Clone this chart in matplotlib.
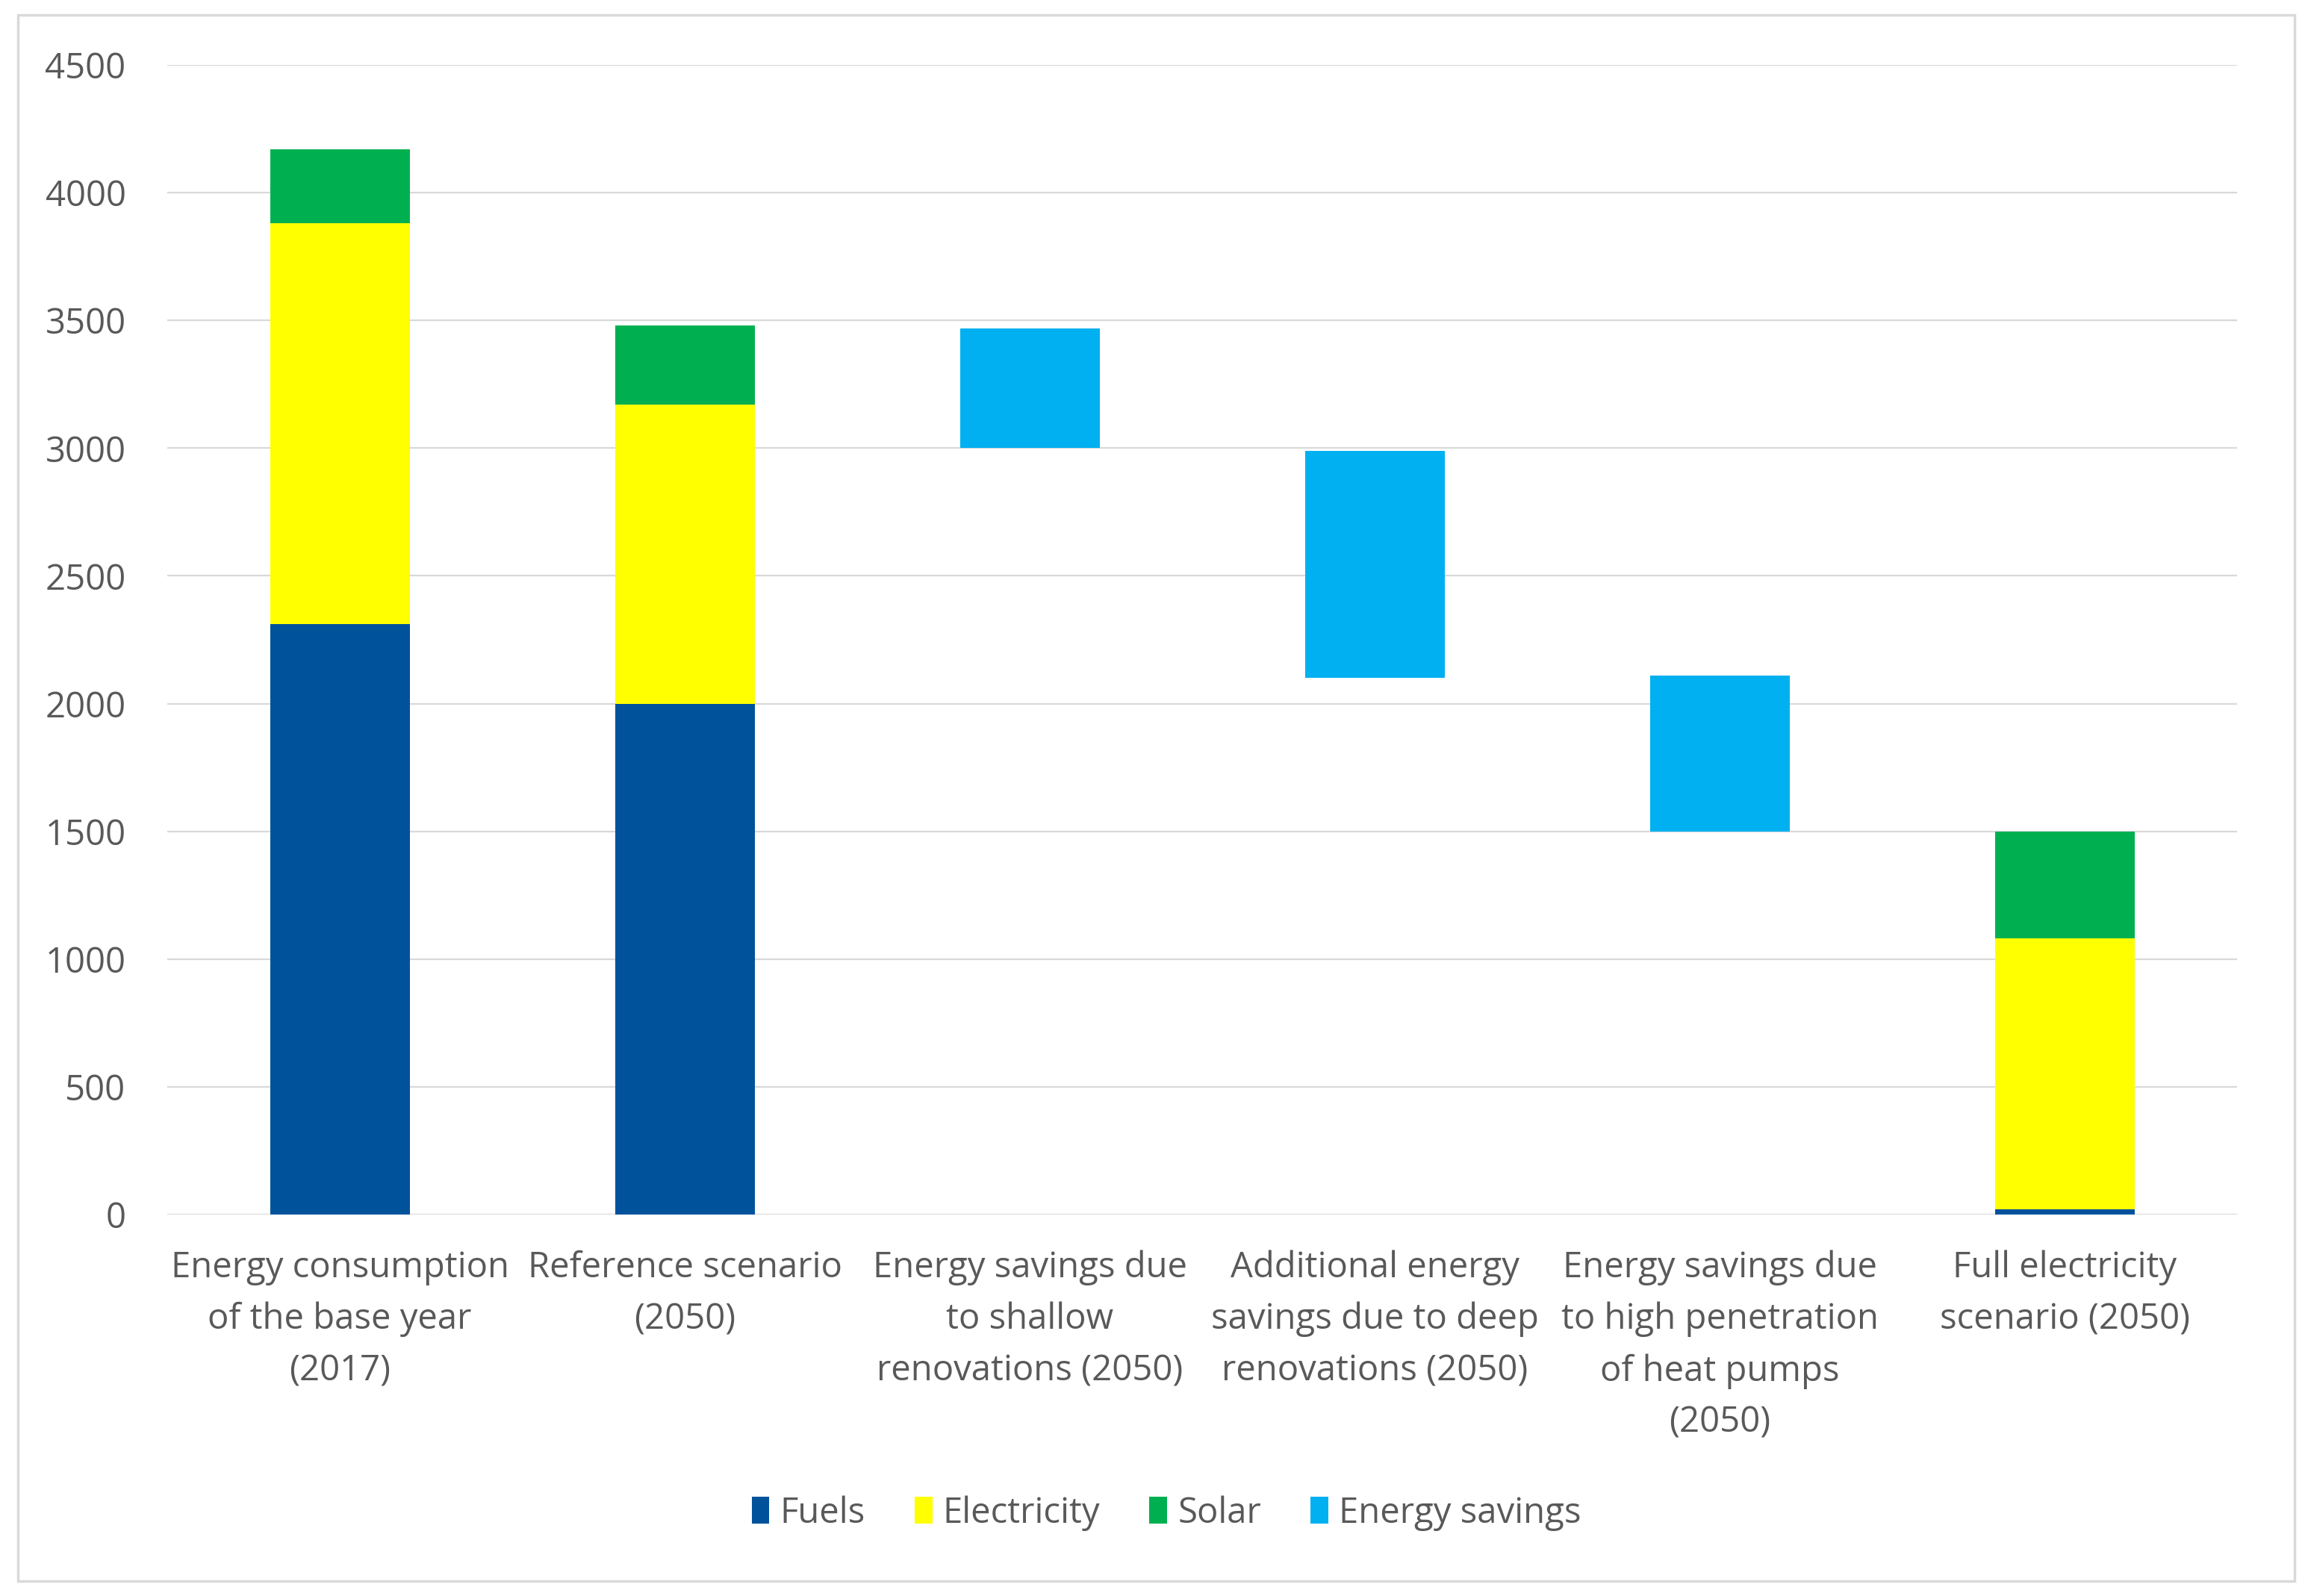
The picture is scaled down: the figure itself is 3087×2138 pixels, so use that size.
import matplotlib.pyplot as plt
import numpy as np
from matplotlib.patches import Rectangle

plt.rcParams['font.family'] = ['Open Sans', 'DejaVu Sans']

categories = ["Energy consumption\nof the base year\n(2017)",
              "Reference scenario\n(2050)",
              "Energy savings due\nto shallow\nrenovations (2050)",
              "Additional energy\nsavings due to deep\nrenovations (2050)",
              "Energy savings due\nto high penetration\nof heat pumps\n(2050)",
              "Full electricity\nscenario (2050)"]

fuels = [2310, 2000, 0, 0, 0, 20]
electricity = [1570, 1170, 0, 0, 0, 1060]
solar = [290, 310, 0, 0, 0, 420]
savings_base = [0, 0, 3000, 2100, 1500, 0]
savings = [0, 0, 470, 890, 610, 0]

fig = plt.figure(figsize=(30.87, 21.38), dpi=100)
ax = fig.add_axes([0.0726, 0.239, 0.898, 0.7203])

x = np.arange(len(categories))
w = 0.405
fuels = np.array(fuels)
electricity = np.array(electricity)
solar = np.array(solar)

ax.bar(x, fuels, w, color='#00529B', label='Fuels', zorder=3)
ax.bar(x, electricity, w, bottom=fuels, color='#FFFF00', label='Electricity', zorder=3)
ax.bar(x, solar, w, bottom=fuels + electricity, color='#00B050', label='Solar', zorder=3)
ax.bar(x, savings, w, bottom=savings_base, color='#00B0F0', label='Energy savings', zorder=3)

ax.set_xlim(-0.5, 5.5)
ax.set_ylim(0, 4500)
ax.set_yticks(np.arange(0, 4501, 500))
ax.yaxis.grid(True, color='#d9d9d9', linewidth=1.6, zorder=0)
ax.set_axisbelow(True)
for s in ax.spines.values():
    s.set_visible(False)
ax.tick_params(length=0, colors='#595959', labelsize=34)
ax.tick_params(axis='y', pad=40)
ax.tick_params(axis='x', pad=34)
ax.set_xticks(x)
ax.set_xticklabels(categories, linespacing=1.6)

fig.legend(loc='center', bbox_to_anchor=(0.506, 0.052), ncol=4, frameon=False,
           fontsize=34, handlelength=0.5, handleheight=0.8, handletextpad=0.3,
           columnspacing=1.4, labelcolor='#595959')

fig.patches.append(Rectangle((24 / 3087, 20 / 2138), 3049 / 3087, 2098 / 2138,
                             transform=fig.transFigure, fill=False,
                             edgecolor='#d9d9d9', linewidth=2.5))

fig.savefig('out.png', dpi=100)
